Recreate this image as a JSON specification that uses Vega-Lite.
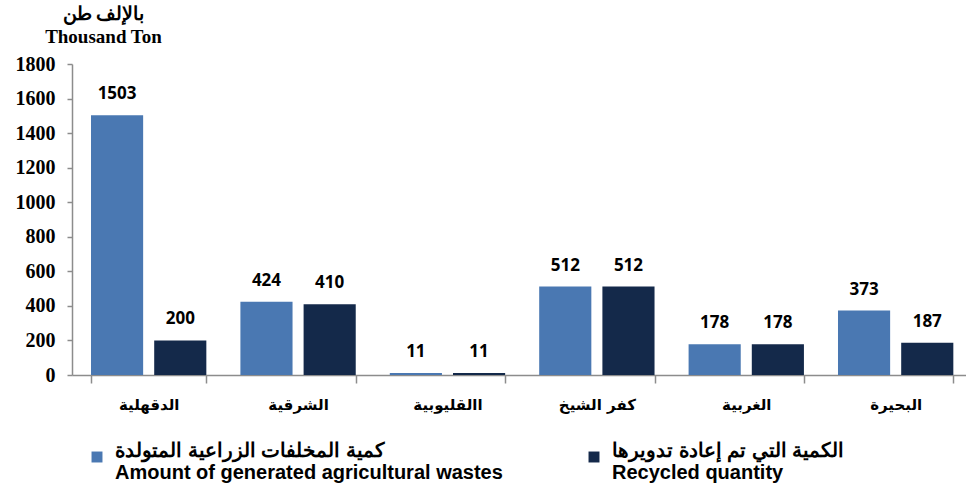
{
  "$schema": "https://vega.github.io/schema/vega-lite/v6.json",
  "autosize": "none",
  "width": 894,
  "height": 311,
  "padding": {"left": 72, "top": 64, "right": 0, "bottom": 117},
  "background": "white",
  "config": {"view": {"stroke": null}},
  "data": {
    "values": [
      {"region": "الدقهلية", "series": "كمية المخلفات الزراعية المتولدة|Amount of generated agricultural wastes", "order": 1, "value": 1503},
      {"region": "الدقهلية", "series": "الكمية التي تم إعادة تدويرها|Recycled quantity", "order": 2, "value": 200},
      {"region": "الشرقية", "series": "كمية المخلفات الزراعية المتولدة|Amount of generated agricultural wastes", "order": 1, "value": 424},
      {"region": "الشرقية", "series": "الكمية التي تم إعادة تدويرها|Recycled quantity", "order": 2, "value": 410},
      {"region": "االقليوبية", "series": "كمية المخلفات الزراعية المتولدة|Amount of generated agricultural wastes", "order": 1, "value": 11},
      {"region": "االقليوبية", "series": "الكمية التي تم إعادة تدويرها|Recycled quantity", "order": 2, "value": 11},
      {"region": "كفر الشيخ", "series": "كمية المخلفات الزراعية المتولدة|Amount of generated agricultural wastes", "order": 1, "value": 512},
      {"region": "كفر الشيخ", "series": "الكمية التي تم إعادة تدويرها|Recycled quantity", "order": 2, "value": 512},
      {"region": "الغربية", "series": "كمية المخلفات الزراعية المتولدة|Amount of generated agricultural wastes", "order": 1, "value": 178},
      {"region": "الغربية", "series": "الكمية التي تم إعادة تدويرها|Recycled quantity", "order": 2, "value": 178},
      {"region": "البحيرة", "series": "كمية المخلفات الزراعية المتولدة|Amount of generated agricultural wastes", "order": 1, "value": 373},
      {"region": "البحيرة", "series": "الكمية التي تم إعادة تدويرها|Recycled quantity", "order": 2, "value": 187}
    ]
  },
  "encoding": {
    "x": {
      "field": "region", "type": "nominal", "sort": null,
      "scale": {"paddingInner": 0.228, "paddingOuter": 0.106, "align": 0.6},
      "axis": {
        "title": null, "labelAngle": 0, "tickBand": "extent",
        "labelFont": "DejaVu Sans", "labelFontWeight": "bold", "labelFontSize": 15, "labelColor": "black",
        "labelPadding": 14, "tickSize": 8, "tickColor": "#8c8c8c", "domainColor": "#8c8c8c", "domainWidth": 1.5, "tickWidth": 1.5
      }
    },
    "xOffset": {"field": "series", "type": "nominal", "sort": {"field": "order"}, "scale": {"paddingInner": 0.175, "paddingOuter": 0}},
    "y": {
      "field": "value", "type": "quantitative",
      "scale": {"domain": [0, 1800], "nice": false},
      "axis": {
        "values": [0, 200, 400, 600, 800, 1000, 1200, 1400, 1600, 1800],
        "format": "d",
        "grid": false, "tickSize": 5, "labelPadding": 12,
        "labelFont": "Liberation Serif", "labelFontWeight": "bold", "labelFontSize": 20, "labelColor": "black",
        "tickColor": "#8c8c8c", "domainColor": "#8c8c8c", "domainWidth": 1.5, "tickWidth": 1.5,
        "title": ["بالإلف طن", "Thousand Ton"], "titleAngle": 0, "titleAlign": "center", "titleBaseline": "top",
        "titleX": 31, "titleY": -60, "titleLineHeight": 23,
        "titleFont": "Liberation Serif", "titleFontWeight": "bold", "titleFontSize": 19, "titleColor": "black"
      }
    }
  },
  "layer": [
    {
      "mark": {"type": "bar"},
      "encoding": {
        "color": {
          "field": "series", "type": "nominal", "sort": {"field": "order"},
          "scale": {"range": ["#4A78B2", "#14294A"]},
          "legend": {
            "title": null, "orient": "none", "legendX": 15, "legendY": 383, "direction": "horizontal",
            "symbolType": "square", "symbolSize": 120, "symbolStrokeWidth": 0,
            "labelExpr": "split(datum.label, '|')", "labelLimit": 600,
            "labelFont": "Liberation Sans", "labelFontWeight": "bold", "labelFontSize": 20, "labelColor": "black",
            "labelBaseline": "alphabetic", "labelOffset": 8, "columnPadding": 81
          }
        }
      }
    },
    {
      "mark": {"type": "text", "baseline": "alphabetic", "dy": -16, "font": "Open Sans", "fontWeight": "bold", "fontSize": 17, "color": "black"},
      "encoding": {"text": {"field": "value", "type": "quantitative"}}
    }
  ]
}
